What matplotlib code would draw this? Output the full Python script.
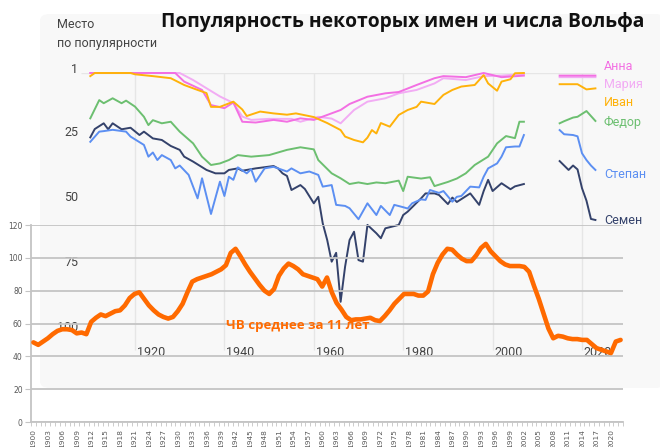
import matplotlib.pyplot as plt
import numpy as np
from matplotlib.patches import FancyBboxPatch

# ---- data: name popularity (rank) ----
nan = np.nan
anna_years = [1910, 1929, 1931, 1935, 1937, 1940, 1942, 1944, 1947, 1951, 1954, 1957, 1960, 1963, 1966, 1968,
              1972, 1976, 1979, 1983, 1987, 1989, 1994, 1998, 2002, 2007, 2011, 2015, 2023]
anna_rank = [1, 1, 4.3, 7.5, 13.3, 14.5, 12.3, 19.7, 20, 19, 19.7, 18.4, 19, 17.1, 15.2, 12.9,
             10.1, 8.8, 8.3, 5.6, 3, 2.2, 2.6, 1, 2.6, 2, nan, 2, 2]

maria_years = [1910, 1930, 1933, 1939, 1942, 1944, 1946, 1950, 1955, 1957, 1961, 1964, 1966, 1969, 1972,
               1976, 1979, 1983, 1987, 1989, 1994, 1998, 2002, 2007, 2011, 2015, 2023]
maria_rank = [1, 1, 3.7, 10, 12.5, 17.7, 19, 18.6, 18.6, 19.7, 17.8, 18.5, 20.3, 15.2, 12,
              10.7, 8.8, 7.5, 5, 3, 3.7, 2.2, 2, 1.4, nan, 2.6, 2.6]

ivan_years = [1910, 1911, 1919, 1920, 1924, 1928, 1931, 1934, 1936, 1937, 1939, 1942, 1944, 1945, 1948,
              1951, 1954, 1956, 1960, 1963, 1966, 1967, 1969, 1971, 1972, 1973, 1974, 1975, 1977, 1979,
              1981, 1983, 1984, 1987, 1989, 1991, 1993, 1996, 1998, 1999, 2001, 2002, 2004, 2005, 2007,
              2011, 2015, 2019, 2021, 2023]
ivan_rank = [2.2, 1, 1, 1.5, 2.2, 3, 5.6, 7.5, 8.7, 14, 14, 12, 15, 17.5, 15.8,
             16.5, 17, 16.5, 17.9, 20.2, 22.9, 25.4, 26.7, 27.6, 25.8, 22.9, 24.2, 20.2, 21.6, 17.1,
             15.2, 14, 12, 12.9, 9.4, 7.5, 6.2, 5.6, 1.8, 5, 7.8, 4.3, 3.4, 1.1, 1,
             nan, 5.3, 5.3, 7.3, 6.9]

fedor_years = [1910, 1912, 1913, 1915, 1917, 1918, 1920, 1922, 1923, 1924, 1926, 1928, 1930, 1933, 1935,
               1937, 1939, 1941, 1943, 1946, 1950, 1954, 1957, 1960, 1961, 1964, 1966, 1968, 1970, 1972,
               1974, 1976, 1979, 1980, 1981, 1984, 1986, 1987, 1990, 1992, 1994, 1996, 1999, 2001, 2003,
               2005, 2006, 2007, 2011, 2015, 2016, 2018, 2019, 2021, 2023]
fedor_rank = [18.4, 11.4, 12.6, 10.7, 12.6, 11.6, 13.9, 17.8, 21, 19.1, 20.3, 19.7, 23.5, 28, 33.1,
              36.3, 35.7, 34.4, 32.5, 33.1, 32.5, 30.5, 29.5, 30.3, 34.4, 39.5, 41.4, 43.6, 43, 43.6,
              43, 43.3, 42.3, 46.3, 40.8, 41.5, 41, 44.4, 42.8, 41.5, 39.5, 36.3, 33.1, 28, 25.2,
              26, 19.7, 19.7, nan, 20.3, 19.5, 18.1, 17.8, 15.6, 19.4]

stepan_years = [1910, 1912, 1913, 1915, 1918, 1919, 1922, 1923, 1924, 1925, 1926, 1928, 1929, 1930, 1932,
                1934, 1935, 1937, 1939, 1940, 1941, 1942, 1943, 1945, 1946, 1947, 1949, 1951, 1954, 1955,
                1957, 1959, 1961, 1962, 1964, 1965, 1967, 1968, 1970, 1972, 1974, 1975, 1977, 1978, 1980,
                1981, 1982, 1984, 1985, 1986, 1988, 1989, 1991, 1992, 1993, 1995, 1997, 1998, 1999, 2001,
                2002, 2003, 2005, 2006, 2007, 2011, 2015, 2016, 2018, 2019, 2020, 2021, 2022, 2023]
stepan_rank = [27.4, 23.5, 23.3, 22.8, 23.5, 25.4, 28.6, 33.1, 31.5, 34.4, 32.5, 34.4, 37.6, 36.5, 40.1,
               49.1, 41.4, 55.1, 42.7, 48.2, 40.8, 42, 37.2, 39.5, 37.9, 42.7, 37.6, 37, 38.8, 37.6,
               39.5, 38.8, 40.1, 44.6, 44, 51.6, 52, 52.9, 57.1, 51, 55.5, 52, 55.5, 51.6, 52.5,
               53, 51, 49.5, 49.7, 45.9, 47, 46.3, 50.4, 48.5, 48.2, 44.6, 44.9, 40.8, 37.6, 35.7,
               33.1, 29.5, 29.2, 29.2, 24.8, nan, 22.9, 24.5, 24.8, 25.3, 31.8, 34.4, 36.5, 38.2]

semen_years = [1910, 1911, 1913, 1914, 1915, 1917, 1919, 1921, 1922, 1924, 1926, 1928, 1930, 1931, 1933,
               1936, 1938, 1940, 1941, 1943, 1944, 1947, 1951, 1952, 1953, 1954, 1955, 1957, 1958, 1960,
               1961, 1962, 1963, 1964, 1965, 1966, 1967, 1968, 1969, 1970, 1971, 1972, 1974, 1975, 1976,
               1979, 1980, 1981, 1984, 1985, 1987, 1988, 1990, 1991, 1992, 1995, 1997, 1998, 1999, 2000,
               2002, 2004, 2005, 2007, 2011, 2015, 2016, 2017, 2018, 2019, 2020, 2021, 2022, 2023]
semen_rank = [25.7, 22.5, 20.3, 22.6, 20.3, 22.6, 22, 24.8, 23.5, 26.1, 26.7, 29, 30.5, 33.1, 35,
              38.2, 39.5, 39.5, 38.2, 37.6, 38.5, 37.6, 36.7, 37.6, 39.5, 40.5, 45.9, 44, 45.5, 51,
              48.5, 58.7, 65.1, 73.4, 70, 88.8, 75.3, 65.1, 61.9, 72.8, 73.4, 59.3, 62.5, 64.4, 60.6,
              59.3, 55.5, 54.2, 49.1, 47.2, 47.2, 47.8, 51.3, 48.8, 50.5, 47.2, 51.6, 46.3, 42, 46.3,
              43.3, 45.6, 44.5, 43.6, nan, 34.8, 36.5, 38.2, 36.5, 38, 45.2, 50, 57, 57.4]

names = ['Анна', 'Мария', 'Иван', 'Федор', 'Степан', 'Семен']
name_colors = ['#f36fe3', '#f2acf4', '#ffb20a', '#6cbf70', '#5c8ff2', '#34426b']
name_label_rank = [-1.4, 5.6, 12.5, 19.8, 39.8, 57.7]
rank_ticks = [1, 25, 50, 75, 100]
grid_years = [1920, 1940, 1960, 1980, 2000, 2020]

# ---- data: Wolf number, 11-year mean, 1900..2022 ----
wolf_years = list(range(1900, 2023))
wolf = [48.5, 47, 49, 51, 53.5, 55.5, 56.5, 56.5, 56, 54,
        54.5, 53.5, 61, 63.5, 65.5, 64.5, 66, 67.5, 68, 71,
        75.5, 78, 79, 75, 71, 68, 65.5, 64, 63, 64,
        67.5, 72, 79, 85.5, 87, 88, 89, 90, 91.5, 93,
        95.5, 103, 105.5, 101, 96, 91.5, 87.5, 83.5, 80, 78,
        81, 89, 93.5, 96.5, 95, 93, 90, 89, 88, 87,
        82.5, 88, 79, 72.5, 68.5, 64, 62, 62.5, 62.5, 63,
        63.5, 62, 61.5, 64.5, 68, 72, 75, 78, 78, 78,
        77, 77, 79.5, 90, 97, 102, 105.5, 105, 102, 99.5,
        98, 98, 101.5, 106, 108.5, 104, 101, 98, 96, 95,
        95, 95, 94.5, 91.5, 83, 75, 66, 57, 51, 52.5,
        52, 51, 50.5, 50.5, 50, 50, 47.5, 45, 44, 43,
        42, 49, 50]

W, H = 660, 447
fig = plt.figure(figsize=(6.6, 4.47), dpi=100)


def box(x0, y0, x1, y1):
    # pixel box with top-left origin -> figure rect
    return [x0 / W, 1 - y1 / H, (x1 - x0) / W, (y1 - y0) / H]


# light background panel of the names chart
panel = FancyBboxPatch((40 / W, 1 - 388 / H), 625 / W, 374 / H,
                       boxstyle='round,pad=0,rounding_size=0.015',
                       transform=fig.transFigure, fc='#f8f8f8', ec='none', zorder=-10)
fig.patches.append(panel)

# ---- names chart ----
ax = fig.add_axes(box(45.6, 73, 626.7, 331))
ax.set_xlim(1900, 2030)
ax.set_ylim(100, 1)
ax.axis('off')
ax.vlines(grid_years, 1, 107.3, color='#e6e6e6', lw=1, zorder=1, clip_on=False)
ax.hlines(1, 1908, 2023, color='#e6e6e6', lw=1, zorder=1)

series = [(anna_years, anna_rank), (maria_years, maria_rank), (ivan_years, ivan_rank),
          (fedor_years, fedor_rank), (stepan_years, stepan_rank), (semen_years, semen_rank)]
draw_order = [5, 4, 3, 1, 0, 2]
for i in draw_order:
    yrs, rk = series[i]
    ax.plot(yrs, rk, color=name_colors[i], lw=1.4, zorder=3, solid_joinstyle='round', clip_on=False)

for name, col, r in zip(names, name_colors, name_label_rank):
    ax.text(2024.9, r, name, color=col, fontsize=9, family='Roboto',
            ha='left', va='center', clip_on=False)

for r in rank_ticks:
    ax.text(1907.3, r, str(r), color='#444444', fontsize=9, family='Roboto',
            ha='right', va='baseline', clip_on=False)

for yr in grid_years:
    ax.text(yr + 0.4, 108.4, str(yr), color='#444444', fontsize=9, family='Roboto',
            ha='left', va='center', clip_on=False)

fig.text(57 / W, 1 - 25 / H, 'Место', color='#444444', fontsize=9, family='Roboto', va='center')
fig.text(57 / W, 1 - 43 / H, 'по популярности', color='#444444', fontsize=9, family='Roboto', va='center')

fig.text(403 / W, 1 - 22 / H, 'Популярность некоторых имен и числа Вольфа',
         fontsize=13.9, fontweight='bold', family='Open Sans', color='#111111', ha='center', va='center')

# ---- Wolf number chart (category axis) ----
ax2 = fig.add_axes(box(31, 225, 623, 422))
ax2.patch.set_alpha(0)
idx = np.arange(len(wolf_years))
ax2.plot(idx, wolf, color='#ff6a00', lw=3.3, zorder=5, solid_joinstyle='round', solid_capstyle='round')
ax2.set_xlim(-0.5, len(wolf_years) - 0.5)
ax2.set_ylim(0, 120)
ax2.set_yticks(range(0, 121, 20))
ax2.grid(axis='y', color='#c4c4c4', lw=1.3)
ax2.set_axisbelow(True)
for s in ['top', 'right']:
    ax2.spines[s].set_visible(False)
for s in ['left', 'bottom']:
    ax2.spines[s].set_color('#c4c4c4')
    ax2.spines[s].set_linewidth(1.3)
ax2.set_xticks(idx[::3])
ax2.set_xticklabels([str(y) for y in wolf_years[::3]], rotation=90, fontsize=5.3, color='#595959')
ax2.set_xticks(np.arange(-0.5, len(wolf_years), 1), minor=True)
ax2.tick_params(axis='x', which='major', length=0, pad=5)
ax2.tick_params(axis='x', which='minor', length=3, color='#c4c4c4')
ax2.tick_params(axis='y', length=4, color='#c4c4c4', labelsize=5.5, labelcolor='#595959', pad=2)

# label position in category units: pixel 226 on the 31..623 axis
ax2.text((226 - 31) / 592 * len(wolf_years) - 0.5, 59, 'ЧВ среднее за 11 лет',
         color='#ff6a00', fontsize=9.5, fontweight='bold', family='Open Sans', ha='left', va='center')

fig.savefig('out.png', dpi=100)
